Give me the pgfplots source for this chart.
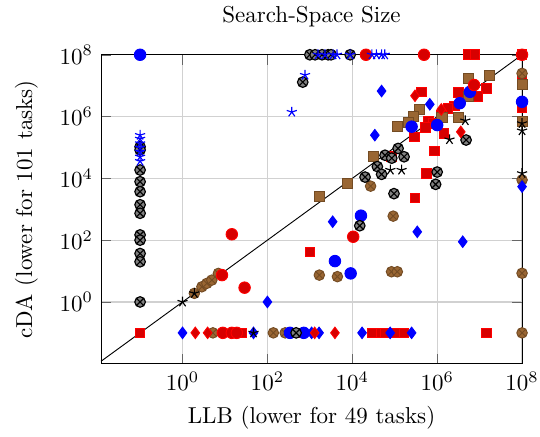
\documentclass[border=0pt]{standalone}
\usepackage{pgfplots}
\pgfplotsset{compat=1.18}
\definecolor{mybrown}{RGB}{153,102,51}
\definecolor{mybrownd}{RGB}{115,75,35}
\definecolor{myred}{RGB}{215,0,0}
\begin{document}
\begin{tikzpicture}
\begin{axis}[
  xmode=log, ymode=log,
  width=183pt, height=134.3pt, scale only axis,
  xmin=0.012, xmax=1e8, ymin=0.01, ymax=1e8,
  xtick={1,1e2,1e4,1e6,1e8}, ytick={1,1e2,1e4,1e6,1e8},
  xminorticks=false, yminorticks=false,
  grid=major, major grid style={black!18, line width=0.5pt},
  tick style={black!60},
  title={Search-Space Size},
  title style={yshift=2.5pt},
  xlabel={LLB (lower for 49 tasks)},
  ylabel={cDA (lower for 101 tasks)},
  ylabel style={yshift=2.5pt},
  clip=false,
]
\addplot[black, line width=0.4pt, no marks] coordinates {(0.012,0.012) (1e8,1e8)};
% red squares
\addplot[only marks, mark=square*, mark size=2.1pt, mark options={draw=red, fill=myred, line width=0.4pt}] coordinates {
(0.1,0.1) (5.3e6,1e8) (7.7e6,1e8) (1e8,1e8) (1e8,1.9e7) (1e8,2e6)
(4.3e5,6.3e6) (1.45e7,8.1e6) (3.2e6,5.9e6) (9.2e6,4.4e6) (2.6e6,2.2e6)
(1.8e6,1.85e6) (1.27e6,1.1e6) (6.2e5,6.8e5) (8.1e5,6e5) (5.3e5,4.5e5)
(1.45e6,2.9e5) (2.9e5,2.2e5) (8.5e5,7.8e4) (5.6e5,1.45e4) (3e5,2.3e3)
(8.5e4,5e4) (1000,42)
(21,0.1) (25,0.1) (535,0.1) (2.9e4,0.1) (4.9e4,0.1) (5.9e4,0.1) (1e5,0.1) (1.65e5,0.1) (1.45e7,0.1)
};
% brown squares
\addplot[only marks, mark=square*, mark size=2.2pt, mark options={draw=mybrownd, fill=mybrown, line width=0.4pt}] coordinates {
(5.4e6,1.7e7) (1.7e7,2.1e7) (5.4e6,4.4e6) (3.9e5,1.75e6) (2.7e5,9.8e5)
(2.1e5,6.3e5) (1.15e5,4.7e5) (1.3e6,9.3e5) (3.2e6,9.6e5) (3.2e4,5e4)
(7.8e3,6.8e3) (1.7e3,2.6e3) (1e8,1.1e7) (1e8,6.8e5)
};
% brown otimes
\addplot[only marks, mark=otimes*, mark size=2.3pt, mark options={draw=mybrownd, fill=mybrown, line width=0.4pt}] coordinates {
(1.9,1.9) (2.86,3.1) (3.75,4.0) (4.9,5.1) (7.0,8.4)
(2.7e4,5.6e3) (9.2e4,600) (1670,7.4) (4460,6.6) (8.4e4,9.5) (1.15e5,9.5)
(1e8,2.5e7) (1e8,8900) (1e8,8.5) (1e8,0.1)
(5.2,0.1) (138,0.1) (262,0.1)
};
% blue circles
\addplot[only marks, mark=*, mark size=2.5pt, mark options={draw=blue, fill=blue}] coordinates {
(0.1,1e8) (1e8,3e6) (5.9e6,6.3e6) (3.4e6,2.7e6) (2.5e5,4.7e5) (1e6,5.3e5)
(1.6e4,620) (3900,21) (9150,8.4) (340,0.1) (720,0.1)
};
% red circles
\addplot[only marks, mark=*, mark size=2.5pt, mark options={draw=red, fill=myred}] coordinates {
(2.1e4,1e8) (4.9e5,1e8) (1e8,1e8) (7.4e6,1.05e7) (1.05e4,129) (14.5,155)
(29,2.9) (8.5,7.4) (8.9,0.1) (14.5,0.1) (19,0.1)
};
% gray otimes
\addplot[only marks, mark=otimes*, mark size=2.3pt, mark options={draw=black, fill=black!50, line width=0.5pt}] coordinates {
(1000,1e8) (1330,1e8) (1940,1e8) (2700,1e8) (3170,1e8) (8900,1e8) (680,1.3e7)
(0.1,1.05e5) (0.1,8.3e4) (0.1,1.86e4) (0.1,7.8e3) (0.1,3.7e3) (0.1,1.4e3)
(0.1,740) (0.1,148) (0.1,100) (0.1,37) (0.1,20) (0.1,1)
(4.8e6,1.74e5) (5.9e4,5.6e4) (1.2e5,9.3e4) (1.66e5,5e4) (8.5e4,4.5e4)
(3.9e4,2.4e4) (4.9e4,1.35e4) (2e4,1.1e4) (1e6,1.6e4) (9.2e5,6.4e3)
(9.6e4,3.2e3) (1.5e4,293) (475,0.1)
};
% blue diamonds
\addplot[only marks, mark=diamond*, mark size=2.5pt, mark options={draw=blue, fill=blue}] coordinates {
(4.9e4,6.7e6) (6.7e5,2.5e6) (3.4e4,2.5e5) (3450,395) (100,1) (3.4e5,186) (4e6,89)
(1e8,5400) (1,0.1) (47,0.1) (1100,0.1) (1650,0.1) (1.7e4,0.1) (7.8e4,0.1) (2.5e5,0.1)
};
% red diamonds
\addplot[only marks, mark=diamond*, mark size=2.5pt, mark options={draw=red, fill=myred}] coordinates {
(3e5,4.7e6) (1.25e6,1.7e6) (3.6e6,3.2e5) (2,0.1) (3.9,0.1) (1300,0.1) (3900,0.1)
};
% blue stars
\addplot[only marks, mark=star, mark size=2.3pt, mark options={draw=blue, line width=0.5pt}] coordinates {
(1560,1e8) (2280,1e8) (3530,1e8) (4360,1e8) (8900,1e8) (2.9e4,1e8) (3.7e4,1e8) (4.9e4,1e8) (5.8e4,1e8)
(770,2.2e7) (375,1.4e6)
(0.1,2.5e5) (0.1,1.9e5) (0.1,1.35e5) (0.1,9.8e4) (0.1,7.2e4) (0.1,5e4) (0.1,3.6e4)
};
% black stars
\addplot[only marks, mark=star, mark size=2.3pt, mark options={draw=black, line width=0.5pt}] coordinates {
(1,1) (1.9,1.9) (4.6e6,7.4e5) (1.95e6,1.8e5) (7.9e4,1.86e4) (1.45e5,1.86e4)
(1e8,6e5) (1e8,3.5e5) (1e8,1.45e4) (47,0.1)
};
\end{axis}
\pgfresetboundingbox
\path ([shift={(-43.9pt,-31.7pt)}]current axis.south west) rectangle ([shift={(7.8pt,23.8pt)}]current axis.north east);
\end{tikzpicture}
\end{document}
